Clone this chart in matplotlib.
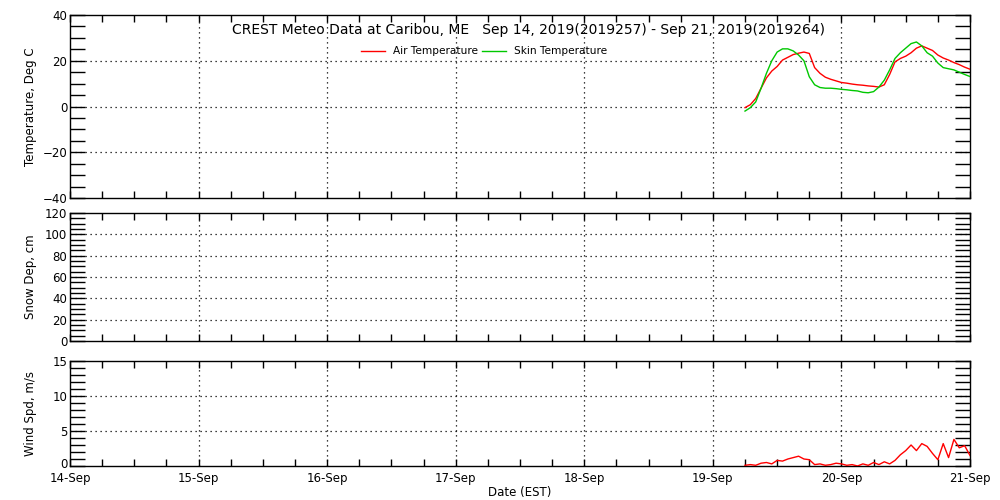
import matplotlib
matplotlib.use("Agg")
import matplotlib.pyplot as plt
import matplotlib.dates as mdates
import matplotlib.transforms as mtransforms
import numpy as np
import pandas as pd

plt.rcParams["font.family"] = ["DejaVu Sans"]
plt.rcParams["font.size"] = 8.5

# hourly samples starting Sep 19 06:00 EST
hours = np.arange(6, 49)
air_temp = [-0.5, 0.8, 3.5, 8.0, 12.5, 15.5, 17.5, 20.3, 21.5, 22.7, 23.3, 23.8, 23.2,
            17.0, 14.5, 12.8, 11.9, 11.2, 10.5, 10.2, 9.8, 9.5, 9.3, 9.0, 8.8, 8.5,
            9.5, 14.0, 19.5, 21.0, 22.0, 23.5, 25.5, 26.5, 25.5, 24.5, 22.5, 21.2,
            20.3, 19.2, 18.3, 17.2, 16.3]
skin_temp = [-2.0, -0.5, 2.0, 8.0, 14.5, 20.0, 23.8, 25.2, 25.2, 24.3, 22.5, 20.0, 13.0,
             9.5, 8.3, 8.0, 8.0, 7.8, 7.5, 7.3, 7.0, 6.8, 6.2, 6.0, 6.5, 8.5,
             11.5, 16.0, 21.0, 23.5, 25.5, 27.5, 28.2, 26.5, 23.5, 22.0, 19.0, 17.0,
             16.5, 16.0, 15.0, 14.0, 13.1]
wind_spd = [0.1, 0.2, 0.1, 0.4, 0.5, 0.3, 0.8, 0.7, 1.0, 1.2, 1.4, 1.0, 0.9,
            0.2, 0.3, 0.1, 0.2, 0.4, 0.3, 0.1, 0.2, 0.0, 0.3, 0.1, 0.5, 0.2,
            0.6, 0.3, 0.8, 1.6, 2.2, 3.0, 2.2, 3.2, 2.8, 1.8, 0.9, 3.2,
            1.2, 3.8, 2.6, 2.9, 1.5]

t0 = pd.Timestamp("2019-09-19")
times = [t0 + pd.Timedelta(hours=int(h)) for h in hours]
x_start, x_end = pd.Timestamp("2019-09-14"), pd.Timestamp("2019-09-21")

fig = plt.figure(figsize=(10, 5), dpi=100)
ax_t = fig.add_axes([0.07, 0.604, 0.9, 0.366])
ax_s = fig.add_axes([0.07, 0.318, 0.9, 0.256])
ax_w = fig.add_axes([0.07, 0.068, 0.9, 0.21])

dot = (0, (1, 3))


def style(ax, ylim, major, minor, label, show_x=False):
    ax.set_xlim(x_start, x_end)
    ax.set_ylim(*ylim)
    ax.set_yticks(np.arange(ylim[0], ylim[1] + 0.1, major))
    ax.set_yticks(np.arange(ylim[0], ylim[1] + 0.1, minor), minor=True)
    ax.xaxis.set_major_locator(mdates.DayLocator())
    ax.xaxis.set_minor_locator(mdates.HourLocator(byhour=[6, 12, 18]))
    ax.xaxis.set_major_formatter(mdates.DateFormatter("%d-%b"))
    ax.tick_params(axis="y", which="both", direction="in", length=11, width=1,
                   left=True, right=True, pad=2)
    ax.tick_params(axis="x", which="both", direction="in", length=5, width=1,
                   top=True, bottom=True, labelbottom=show_x, pad=4)
    for y in ax.get_yticks()[1:-1]:
        ax.axhline(y, color="black", lw=0.9, ls=dot, zorder=1)
    for d in pd.date_range("2019-09-15", "2019-09-20"):
        ax.axvline(d, color="black", lw=0.9, ls=dot, zorder=1)
    for s in ax.spines.values():
        s.set_linewidth(1)
    ax.set_ylabel(label)
    ax.yaxis.set_label_coords(-0.037, 0.5)


style(ax_t, (-40, 40), 20, 5, "Temperature, Deg C")
style(ax_s, (0, 120), 20, 5, "Snow Dep, cm")
style(ax_w, (0, 15), 5, 1, "Wind Spd, m/s", show_x=True)

# nudge the bottom "0" up a little so it clears the date labels
zero_lbl = ax_w.get_yticklabels()[0]
zero_lbl.set_transform(zero_lbl.get_transform()
                       + mtransforms.ScaledTranslation(0, 2 / 72, fig.dpi_scale_trans))

ax_t.plot(times, air_temp, color="#ff0000", lw=1, zorder=3)
ax_t.plot(times, skin_temp, color="#00c800", lw=1, zorder=3)
ax_w.plot(times, wind_spd, color="#ff0000", lw=1, zorder=3)

ax_w.set_xlabel("Date (EST)", labelpad=1)

fig.text(0.529, 0.94, "CREST Meteo Data at Caribou, ME   Sep 14, 2019(2019257) - Sep 21, 2019(2019264)",
         ha="center", va="center", fontsize=10)
# legend drawn by hand in figure coords, as in the original layout
fig.add_artist(plt.Line2D([0.361, 0.385], [0.898, 0.898], color="#ff0000", lw=1))
fig.text(0.393, 0.898, "Air Temperature", va="center", fontsize=7.6)
fig.add_artist(plt.Line2D([0.482, 0.506], [0.898, 0.898], color="#00c800", lw=1))
fig.text(0.514, 0.898, "Skin Temperature", va="center", fontsize=7.6)

fig.savefig("out.png", dpi=100)
